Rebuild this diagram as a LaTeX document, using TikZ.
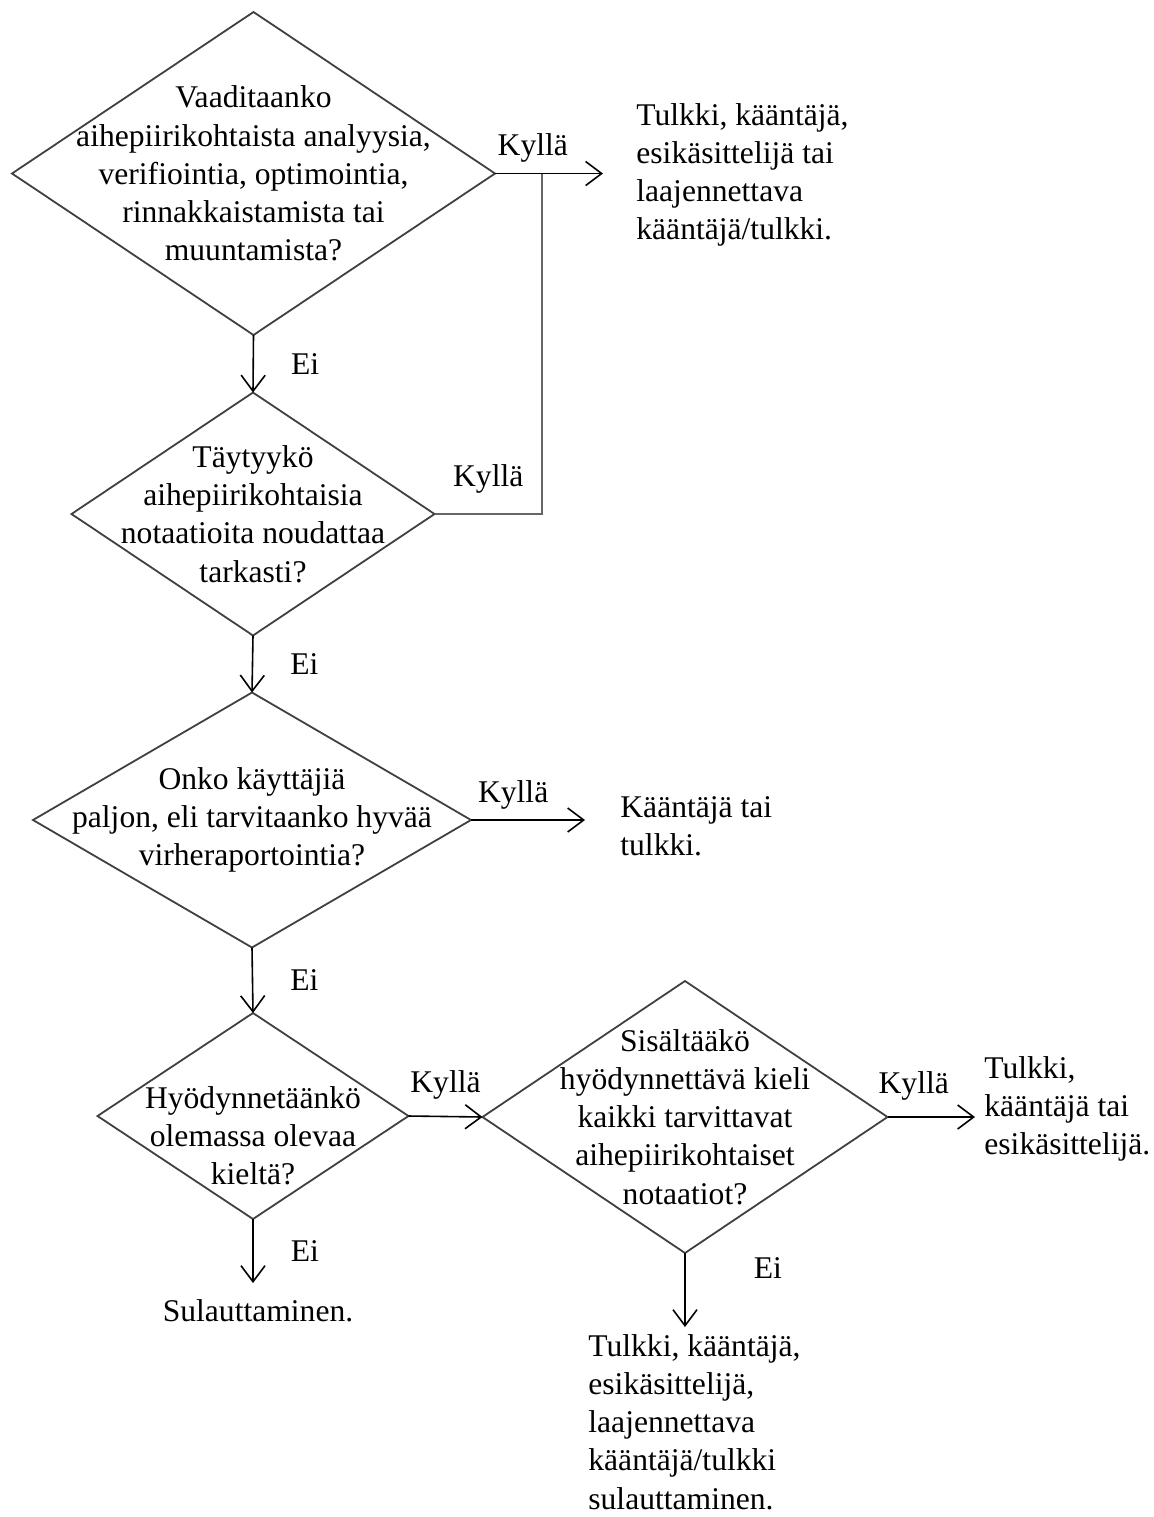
\documentclass[tikz,border=0pt]{standalone}
\usepackage{fontspec}
\setmainfont{Liberation Serif}
\usetikzlibrary{arrows.meta, shapes.geometric}

\begin{document}
\begin{tikzpicture}[
  x=0.5pt, y=-0.5pt,
  font=\fontsize{15.8pt}{19.1pt}\selectfont,
  d/.style={diamond, draw=black!75, line width=0.9pt, inner sep=0pt, outer sep=0pt},
  qt/.style={align=center, inner sep=0pt},
  res/.style={align=left, inner ysep=0pt, anchor=west},
  ar/.style={-{Straight Barb[length=8pt, width=12pt]}, line width=0.8pt},
  lab/.style={inner sep=0pt, text=black}
]
\useasboundingbox (0,0) rectangle (1153,1517);

% kysymykset
\node[d, minimum width=241.5pt, minimum height=161.5pt] (q1) at (253.5,173.5) {};
\node[qt] (t1) at (q1) {Vaaditaanko\\aihepiirikohtaista analyysia,\\verifiointia, optimointia,\\rinnakkaistamista tai\\muuntamista?};
\node[d, minimum width=181.5pt, minimum height=121.5pt] (q2) at (253,514) {};
\node[qt] (t2) at (q2) {Täytyykö\\aihepiirikohtaisia\\notaatioita noudattaa\\tarkasti?};
\node[d, minimum width=219pt, minimum height=127.5pt] (q3) at (252,820) {};
\node[qt] (t3) at (q3) {Onko käyttäjiä\\paljon, eli tarvitaanko hyvää\\virheraportointia?};
\node[d, minimum width=155.5pt, minimum height=103pt] (q4) at (253,1116) {};
\node[qt, yshift=-10pt] (t4) at (q4) {Hyödynnetäänkö\\olemassa olevaa\\kieltä?};
\node[d, minimum width=202.5pt, minimum height=136pt] (q5) at (685,1117) {};
\node[qt] (t5) at (q5) {Sisältääkö\\hyödynnettävä kieli\\kaikki tarvittavat\\aihepiirikohtaiset\\notaatiot?};

% vastaukset
\node[res, inner xsep=16.5pt] (r1) at (603,175) {Tulkki, kääntäjä,\\esikäsittelijä tai\\laajennettava\\kääntäjä/tulkki.};
\node[res, inner xsep=17.5pt] (r2) at (585,826) {Kääntäjä tai\\tulkki.};
\node[res, inner xsep=4.5pt] (r3) at (975,1109) {Tulkki,\\kääntäjä tai\\esikäsittelijä.};
\node[res, inner xsep=0pt, inner ysep=3.5pt, anchor=north west] (r4) at (588,1327) {Tulkki, kääntäjä,\\esikäsittelijä,\\laajennettava\\kääntäjä/tulkki\\sulauttaminen.};
\node[inner xsep=0pt, inner ysep=8pt, anchor=north] (r5) at (258,1283) {Sulauttaminen.};

\coordinate (j) at (542,173.5);

\draw[ar] (q1.east) -- node[lab, above=5pt, pos=0.35] {Kyllä} (q1.east -| r1.west);
\draw[black!60, line width=0.9pt] (q2.east) -| node[lab, above=10pt, pos=0.25] {Kyllä} (j);
\draw[ar] (q1.south) -- node[lab, right=18.5pt] {Ei} (q2.north);
\draw[ar] (q2.south) -- node[lab, right=18.5pt] {Ei} (q3.north);
\draw[ar] (q3.east) -- node[lab, above=5pt, pos=0.37] {Kyllä} (q3.east -| r2.west);
\draw[ar] (q3.south) -- node[lab, right=18.5pt] {Ei} (q4.north);
\draw[ar] (q4.east) -- node[lab, above=8pt] {Kyllä} (q5.west);
\draw[ar] (q4.south) -- node[lab, right=18.5pt] {Ei} (q4.south |- r5.north);
\draw[ar] (q5.east) -- node[lab, above=8pt, pos=0.3] {Kyllä} (q5.east -| r3.west);
\draw[ar] (q5.south) -- node[lab, right=34pt, pos=0.2] {Ei} (q5.south |- r4.north);
\end{tikzpicture}
\end{document}
